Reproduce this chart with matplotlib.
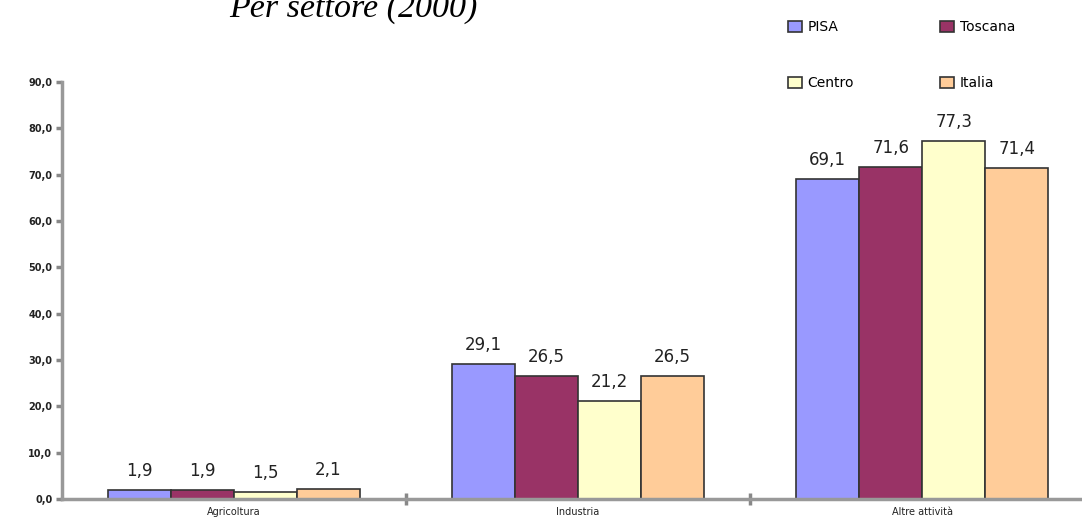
import numpy as np
import matplotlib.pyplot as plt

settori = ["Agricoltura", "Industria", "Altre attività"]
aree = ["PISA", "Toscana", "Centro", "Italia"]
valori = {
    "PISA": [1.9, 29.1, 69.1],
    "Toscana": [1.9, 26.5, 71.6],
    "Centro": [1.5, 21.2, 77.3],
    "Italia": [2.1, 26.5, 71.4],
}
colori = ["#9999FF", "#993366", "#FFFFCC", "#FFCC99"]

fig = plt.figure(figsize=(10.82, 5.31), dpi=100)
ax = fig.add_axes([0.0573, 0.0603, 0.954, 0.785])

x = np.arange(len(settori))
w = 0.183
handles = []
for i, (area, col) in enumerate(zip(aree, colori)):
    pos = x + (i - 1.5) * w
    bars = ax.bar(pos, valori[area], w, color=col, edgecolor="#333333",
                  linewidth=1.2, label=area)
    handles.append(bars)
    for b, v in zip(bars, valori[area]):
        ax.text(b.get_x() + b.get_width() / 2, v + 2.2, f"{v:.1f}".replace(".", ","),
                ha="center", va="bottom", fontsize=12, color="#222222")

ax.set_xlim(-0.5, 2.5)
ax.set_ylim(0, 90)
ax.set_yticks(np.arange(0, 91, 10))
ax.set_yticklabels([f"{t:.1f}".replace(".", ",") for t in range(0, 91, 10)],
                   fontsize=7, fontweight="bold", color="#222222")
ax.set_xticks(x)
ax.set_xticklabels(settori, fontsize=7, color="#222222")
ax.tick_params(axis="x", length=0, pad=6)
ax.set_xticks([0.5, 1.5], minor=True)
ax.tick_params(axis="x", which="minor", direction="inout", length=8, width=2.5,
               color="#888888")
ax.tick_params(axis="y", length=4, width=2.5, color="#888888", pad=3)
for s in ["top", "right"]:
    ax.spines[s].set_visible(False)
for s in ["left", "bottom"]:
    ax.spines[s].set_color("#999999")
    ax.spines[s].set_linewidth(2.5)

fig.text(0.212, 1.012, "Per settore (2000)", fontsize=24.5, style="italic",
         family="Liberation Serif", va="top", ha="left")

# legend rows: PISA/Toscana, then Centro/Italia
order = [0, 2, 1, 3]
fig.legend([handles[k] for k in order], [aree[k] for k in order],
           loc="upper left", bbox_to_anchor=(0.717, 0.985), ncol=2, frameon=False,
           fontsize=10, handlelength=1.0, handleheight=0.8, columnspacing=6.2,
           labelspacing=3.0, handletextpad=0.4)

fig.savefig("out.png", dpi=100)
